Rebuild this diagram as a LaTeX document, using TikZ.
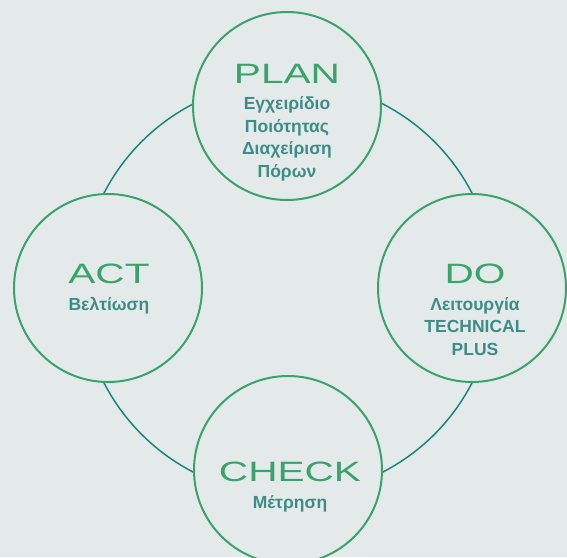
\documentclass[tikz,border=0pt]{standalone}
\usepackage{fontspec}
\setmainfont{Liberation Sans}
\newfontfamily\widefont[FakeStretch=1.45]{Liberation Sans}
\usetikzlibrary{calc}

\definecolor{pagebg}{HTML}{E4EAE9}
\definecolor{cyclegreen}{HTML}{3AA36A}
\definecolor{ringteal}{HTML}{1C8584}
\definecolor{detailteal}{HTML}{3E8C88}

\begin{document}
\begin{tikzpicture}[x=1pt,y=-1pt,
    phase/.style={circle,draw=cyclegreen,line width=2pt,fill=pagebg,
      minimum size=188pt,inner sep=0pt},
    ring/.style={draw=ringteal,line width=1.5pt},
    stage/.style={font=\widefont\fontsize{28}{28}\selectfont,
      text=cyclegreen,inner sep=0pt,anchor=base},
    detail/.style={font=\bfseries\fontsize{17.5}{22.5}\selectfont,
      text=detailteal,align=center,inner sep=0pt,anchor=base}]
            % page
            \useasboundingbox (0,0) rectangle (567,557);
            \clip (0,0) rectangle (567,557);
            \fill[pagebg] (0,0) rectangle (567,557);
            % ring behind the four phases
            \coordinate (hub) at (288,288);
            \draw[ring] (hub) circle[radius=207];
            % phases
            \node[phase] (plan) at (287,106) {};
            \node[phase] (act) at (108,288) {};
            \node[phase] (do) at (472,288) {};
            \node[phase] (check) at (288,470) {};
            % labels (multi-line text sits on its last line)
            \node[stage] (plantitle) at (287,83) {PLAN};
            \node[detail] (plantext) at (287,177) {Εγχειρίδιο\\Ποιότητας\\Διαχείριση\\Πόρων};
            \node[stage] (acttitle) at (109,283) {ACT};
            \node[detail] (acttext) at (109,310) {Βελτίωση};
            \node[stage] (dotitle) at (475,283) {DO};
            \node[detail] (dotext) at (475,355) {Λειτουργία\\TECHNICAL\\PLUS};
            \node[stage] (checktitle) at (290,481) {CHECK};
            \node[detail] (checktext) at (290,508) {Μέτρηση};
        \end{tikzpicture}
\end{document}
